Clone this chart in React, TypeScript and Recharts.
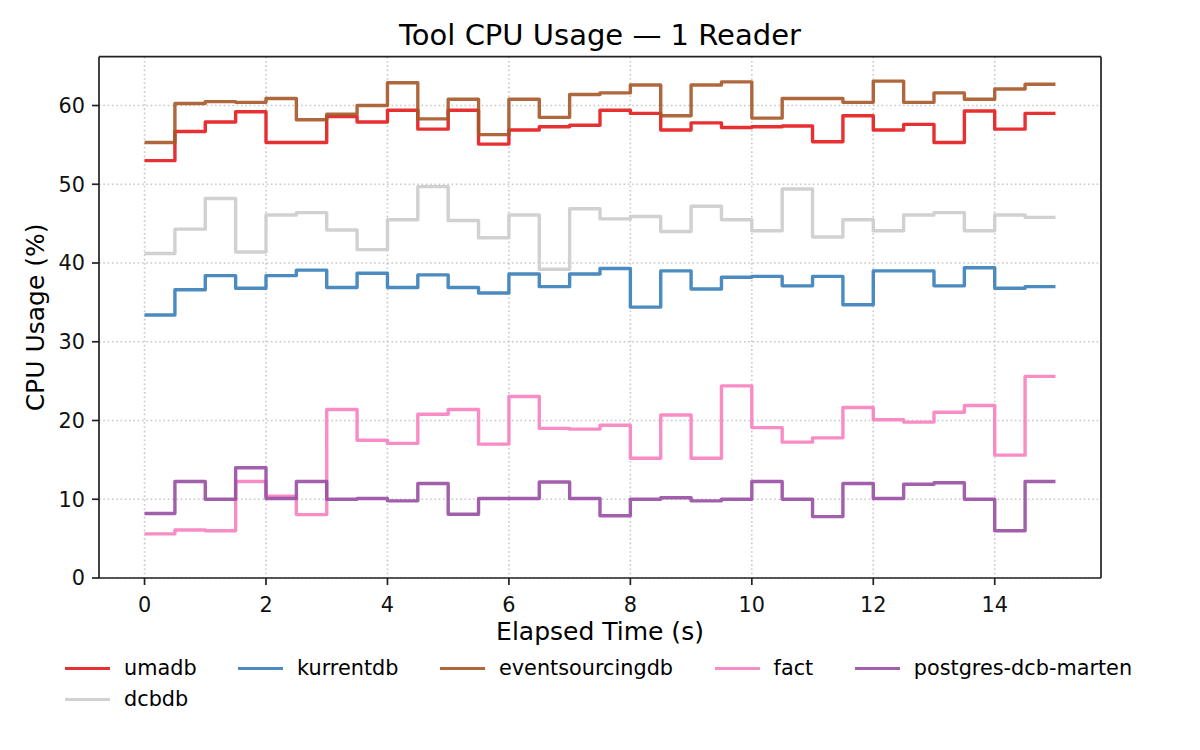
import React from "react";
import { LineChart, Line, XAxis, YAxis, CartesianGrid, ReferenceLine } from "recharts";

// Sample start times (s); each value holds until the next sample; run ends at 15 s
const times = [0, 0.5, 1, 1.5, 2, 2.5, 3, 3.5, 4, 4.5, 5, 5.5, 6, 6.5, 7, 7.5, 8, 8.5, 9, 9.5, 10, 10.5, 11, 11.5, 12, 12.5, 13, 13.5, 14, 14.5];
const endTime = 15;

const umadb = [53.0, 56.7, 57.9, 59.2, 55.3, 55.3, 58.6, 57.9, 59.4, 57.0, 59.4, 55.1, 56.9, 57.3, 57.5, 59.4, 59.0, 56.9, 57.8, 57.2, 57.3, 57.4, 55.4, 58.7, 56.9, 57.6, 55.3, 59.3, 57.0, 59.0];
const kurrentdb = [33.4, 36.6, 38.4, 36.8, 38.4, 39.1, 36.9, 38.7, 36.9, 38.5, 36.9, 36.2, 38.6, 37.0, 38.6, 39.3, 34.4, 39.0, 36.7, 38.2, 38.3, 37.1, 38.3, 34.7, 39.0, 39.0, 37.1, 39.4, 36.8, 37.0];
const eventsourcingdb = [55.3, 60.25, 60.5, 60.4, 60.9, 58.2, 58.9, 60.0, 62.9, 58.3, 60.8, 56.3, 60.8, 58.5, 61.4, 61.6, 62.6, 58.7, 62.6, 63.0, 58.4, 60.9, 60.9, 60.4, 63.1, 60.4, 61.6, 60.8, 62.1, 62.7];
const fact = [5.6, 6.1, 6.0, 12.25, 10.4, 8.05, 21.4, 17.5, 17.1, 20.8, 21.4, 17.0, 23.05, 19.0, 18.9, 19.4, 15.2, 20.7, 15.2, 24.4, 19.1, 17.25, 17.8, 21.65, 20.1, 19.8, 21.05, 21.9, 15.6, 25.6];
const postgresDcbMarten = [8.2, 12.25, 10.0, 14.0, 10.1, 12.25, 10.0, 10.1, 9.8, 12.0, 8.1, 10.1, 10.1, 12.2, 10.1, 7.9, 10.0, 10.2, 9.8, 10.0, 12.25, 10.0, 7.8, 12.0, 10.1, 11.9, 12.1, 10.0, 6.0, 12.25];
const dcbdb = [41.2, 44.3, 48.2, 41.4, 46.1, 46.4, 44.2, 41.7, 45.5, 49.7, 45.4, 43.2, 46.1, 39.2, 46.9, 45.6, 45.9, 44.0, 47.2, 45.5, 44.1, 49.4, 43.3, 45.5, 44.1, 46.1, 46.4, 44.1, 46.1, 45.8];

const xTicks = [0, 2, 4, 6, 8, 10, 12, 14];
const yTicks = [0, 10, 20, 30, 40, 50, 60];

const seriesList = [
  { key: "umadb", name: "umadb", values: umadb, color: "#e41a1c" },
  { key: "kurrentdb", name: "kurrentdb", values: kurrentdb, color: "#377eb8" },
  { key: "eventsourcingdb", name: "eventsourcingdb", values: eventsourcingdb, color: "#a65628" },
  { key: "fact", name: "fact", values: fact, color: "#f781bf" },
  { key: "postgres", name: "postgres-dcb-marten", values: postgresDcbMarten, color: "#984ea3" },
  { key: "dcbdb", name: "dcbdb", values: dcbdb, color: "#cccccc" },
];

const data = [...times, endTime].map((t, i) => {
  const row: Record<string, number> = { t };
  seriesList.forEach((s) => {
    row[s.key] = s.values[Math.min(i, s.values.length - 1)];
  });
  return row;
});

const FONT = "'DejaVu Sans', sans-serif";
const AX = "#222";

export default function App() {
  return (
    <div style={{ position: "absolute", left: 0, top: 0, width: 1200, height: 750, background: "#fff", fontFamily: FONT }}>
      <LineChart
        width={1200}
        height={750}
        data={data}
        margin={{ top: 56.7, right: 99, left: 0, bottom: 132 }}
      >
        <CartesianGrid
          stroke="#b0b0b0"
          strokeOpacity={0.7}
          strokeWidth={1.6}
          strokeDasharray="1.6 2.7"
          verticalValues={xTicks}
          horizontalValues={yTicks}
        />
        <XAxis
          type="number"
          dataKey="t"
          domain={[-0.75, 15.75]}
          ticks={xTicks}
          height={40}
          tickSize={7}
          tickMargin={12}
          axisLine={{ stroke: AX, strokeWidth: 1.7 }}
          tickLine={{ stroke: AX, strokeWidth: 1.7 }}
          tick={{ fill: "#111", fontSize: 20.8, fontFamily: FONT }}
          allowDataOverflow
        />
        <YAxis
          type="number"
          domain={[0, 66.2]}
          ticks={yTicks}
          width={99}
          tickSize={7}
          tickMargin={7}
          axisLine={{ stroke: AX, strokeWidth: 1.7 }}
          tickLine={{ stroke: AX, strokeWidth: 1.7 }}
          tick={{ fill: "#111", fontSize: 20.8, fontFamily: FONT }}
          allowDataOverflow
        />
        {seriesList.map((s) => (
          <Line
            key={s.key}
            dataKey={s.key}
            name={s.name}
            type="stepAfter"
            stroke={s.color}
            strokeOpacity={0.9}
            strokeWidth={3.4}
            strokeLinejoin="round"
            strokeLinecap="butt"
            dot={false}
            activeDot={false}
            isAnimationActive={false}
          />
        ))}
        <ReferenceLine y={66.2} stroke={AX} strokeWidth={1.7} />
        <ReferenceLine x={15.75} stroke={AX} strokeWidth={1.7} />
      </LineChart>

      <svg width={1200} height={750} style={{ position: "absolute", left: 0, top: 0, pointerEvents: "none" }}>
        <text x={600} y={44.5} textAnchor="middle" fontSize={29} fontFamily={FONT} fill="#000">
          Tool CPU Usage — 1 Reader
        </text>
        <text x={600} y={640} textAnchor="middle" fontSize={25} fontFamily={FONT} fill="#000">
          Elapsed Time (s)
        </text>
        <text
          transform="translate(44.2,317.4) rotate(-90)"
          textAnchor="middle"
          fontSize={25}
          fontFamily={FONT}
          fill="#000"
        >
          CPU Usage (%)
        </text>
      </svg>

      <div
        style={{
          position: "absolute",
          left: 65,
          top: 653.3,
          display: "grid",
          gridTemplateColumns: "repeat(5, auto)",
          columnGap: 41.5,
          rowGap: 0,
          fontFamily: FONT,
          fontSize: 20.8,
          color: "#000",
        }}
      >
        {seriesList.map((s) => (
          <div key={s.key} style={{ display: "flex", alignItems: "center", height: 31 }}>
            <div style={{ width: 45, height: 3.4, background: s.color, opacity: 0.9, marginRight: 14 }} />
            <span style={{ lineHeight: "31px", whiteSpace: "nowrap" }}>{s.name}</span>
          </div>
        ))}
      </div>
    </div>
  );
}
